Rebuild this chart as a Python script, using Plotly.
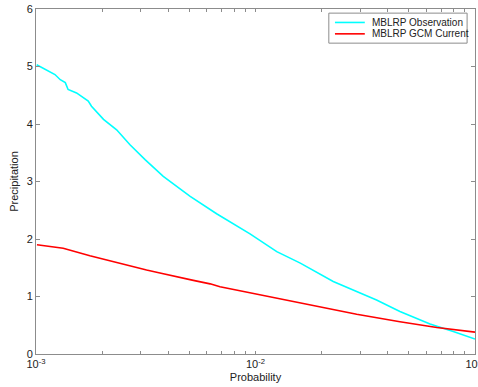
import plotly.graph_objects as go

obs_prob = [0.001007, 0.00110, 0.00122, 0.00129, 0.00136, 0.00140, 0.00153, 0.00173,
            0.00179, 0.00203, 0.00233, 0.00268, 0.00314, 0.00380, 0.00504, 0.00665,
            0.00766, 0.00944, 0.0125, 0.0160, 0.0226, 0.0356, 0.0455,
            0.0624, 0.0796, 0.1]
obs_precip = [5.03, 4.95, 4.86, 4.77, 4.72, 4.60, 4.54, 4.40,
              4.31, 4.08, 3.90, 3.64, 3.38, 3.09, 2.74, 2.44,
              2.30, 2.09, 1.78, 1.58, 1.26, 0.94, 0.74,
              0.52, 0.39, 0.26]

gcm_prob = [0.00101, 0.00133, 0.00176, 0.00203, 0.00250, 0.00319, 0.00367, 0.00438,
            0.00521, 0.00621, 0.00689, 0.00849, 0.0105, 0.0127, 0.0190, 0.0289,
            0.0455, 0.0670, 0.1]
gcm_precip = [1.90, 1.84, 1.71, 1.65, 1.55, 1.46, 1.41, 1.34,
              1.28, 1.22, 1.17, 1.10, 1.03, 0.96, 0.83, 0.69,
              0.56, 0.46, 0.38]

series_names = ["MBLRP Observation", "MBLRP GCM Current"]
series_colors = ["#00ffff", "#ff0000"]

x_tickvals = [0.001, 0.002, 0.003, 0.004, 0.005, 0.006, 0.007, 0.008, 0.009,
              0.01, 0.02, 0.03, 0.04, 0.05, 0.06, 0.07, 0.08, 0.09, 0.1]
x_ticktext = ["10<sup>-3</sup>", "", "", "", "", "", "", "", "",
              "10<sup>-2</sup>", "", "", "", "", "", "", "", "",
              "10<sup>-1</sup>"]

font = "Liberation Sans"
axcol = "#8c8c8c"

fig = go.Figure()
for xs, ys, nm, col in [(obs_prob, obs_precip, series_names[0], series_colors[0]),
                        (gcm_prob, gcm_precip, series_names[1], series_colors[1])]:
    fig.add_trace(go.Scatter(x=xs, y=ys, mode="lines", name=nm,
                             line=dict(color=col, width=1.6), showlegend=False))

# Legend box (MATLAB-style, compact)
fig.add_shape(type="rect", xref="paper", yref="paper",
              x0=0.667, x1=0.982, y0=0.901, y1=0.988,
              line=dict(color=axcol, width=1), fillcolor="white", layer="above")
legend_rows = [0.961, 0.928]
for nm, col, yy in zip(series_names, series_colors, legend_rows):
    fig.add_shape(type="line", xref="paper", yref="paper",
                  x0=0.681, x1=0.749, y0=yy, y1=yy,
                  line=dict(color=col, width=1.6), layer="above")
    fig.add_annotation(text=nm, xref="paper", yref="paper", x=0.760, y=yy,
                       xanchor="left", yanchor="middle", showarrow=False,
                       font=dict(size=10, family=font, color="#222"))

fig.update_layout(
    width=478, height=387,
    margin=dict(l=36, r=3, t=9, b=33),
    paper_bgcolor="white", plot_bgcolor="white",
    font=dict(family=font, size=11, color="#222"),
    showlegend=False,
    xaxis=dict(type="log", range=[-3, -1], tickvals=x_tickvals, ticktext=x_ticktext,
               ticks="inside", ticklen=3, tickcolor=axcol, automargin=False,
               ticklabeloverflow="allow",
               showline=True, linecolor=axcol, mirror="ticks", showgrid=False,
               zeroline=False,
               title=dict(text="Probability", font=dict(size=11), standoff=4)),
    yaxis=dict(range=[0, 6], dtick=1, ticks="inside", ticklen=4, tickcolor=axcol,
               showline=True, linecolor=axcol, mirror="ticks", showgrid=False,
               zeroline=False, automargin=False,
               title=dict(text="Precipitation", font=dict(size=11), standoff=5)),
)

fig.write_html("out.html", config={"displayModeBar": False},
               post_script="document.body.style.margin='0';")
